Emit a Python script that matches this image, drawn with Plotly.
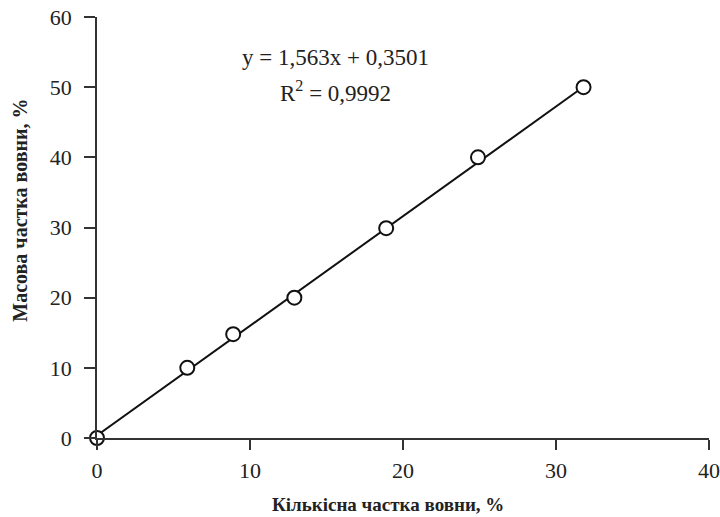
import plotly.graph_objects as go

# Data
x_count = [0, 5.9, 8.9, 12.9, 18.9, 24.9, 31.8]
y_mass = [0, 10, 14.8, 20, 29.9, 40, 50]
slope = 1.563
intercept = 0.3501
r2_text = "0,9992"
eq_text = "y = 1,563x + 0,3501"
x_ticks = [0, 10, 20, 30, 40]
y_ticks = [0, 10, 20, 30, 40, 50, 60]
x_title = "Кількісна частка вовни, %"
y_title = "Масова частка вовни, %"

FONT = "Liberation Serif, Times New Roman, serif"

trend_x = [min(x_count), max(x_count)]
trend_y = [slope * v + intercept for v in trend_x]

fig = go.Figure()
fig.add_trace(go.Scatter(x=trend_x, y=trend_y, mode="lines",
                         line=dict(color="#111", width=2), showlegend=False,
                         hoverinfo="skip"))
fig.add_trace(go.Scatter(x=x_count, y=y_mass, mode="markers",
                         marker=dict(symbol="circle", size=14, color="white",
                                     line=dict(color="#111", width=2)),
                         showlegend=False, cliponaxis=False))

fig.update_layout(
    width=720, height=517,
    margin=dict(l=97, r=11, t=17, b=79),
    paper_bgcolor="white", plot_bgcolor="white",
    font=dict(family=FONT, size=22, color="#222"),
    xaxis=dict(range=[0, 40], tickvals=x_ticks, showgrid=False, zeroline=False,
               showline=True, linecolor="#333", linewidth=1.5, automargin=False,
               ticks="outside", ticklen=10, tickwidth=1.5, tickcolor="#333",
               ticklabelstandoff=2,
               tickfont=dict(family=FONT, size=22, color="#222")),
    yaxis=dict(range=[0, 60], tickvals=y_ticks, showgrid=False, zeroline=False,
               showline=True, linecolor="#333", linewidth=1.5, automargin=False,
               ticks="outside", ticklen=11, tickwidth=1.5, tickcolor="#333",
               ticklabelstandoff=8,
               tickfont=dict(family=FONT, size=22, color="#222")),
    annotations=[
        dict(text=eq_text, x=0.389, y=0.903, xref="paper", yref="paper",
             showarrow=False, xanchor="center", yanchor="middle",
             font=dict(family=FONT, size=23, color="#222")),
        dict(text="R<sup>2</sup> = " + r2_text, x=0.389, y=0.822, xref="paper", yref="paper",
             showarrow=False, xanchor="center", yanchor="middle",
             font=dict(family=FONT, size=23, color="#222")),
        dict(text="<b>" + x_title + "</b>", x=0.475, y=-0.159, xref="paper", yref="paper",
             showarrow=False, xanchor="center", yanchor="middle",
             font=dict(family=FONT, size=19, color="#222")),
        dict(text="<b>" + y_title + "</b>", x=-0.126, y=0.542, xref="paper", yref="paper",
             showarrow=False, xanchor="center", yanchor="middle", textangle=-90,
             font=dict(family=FONT, size=20, color="#222")),
    ],
)

fig.write_html("out.html")
